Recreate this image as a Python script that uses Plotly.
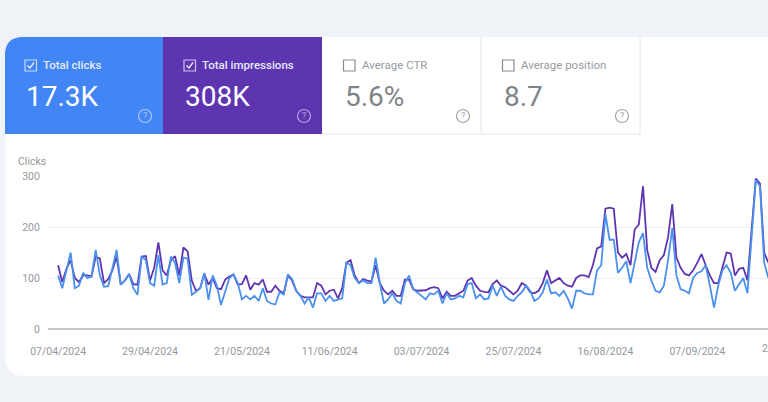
import pandas as pd
import plotly.graph_objects as go

# daily values, 07/04/2024 onwards
clicks = [105, 80, 115, 150, 80, 85, 110, 100, 103, 155,
          105, 83, 84, 120, 155, 87, 95, 108, 80, 67,
          142, 135, 90, 85, 145, 87, 90, 142, 130, 90,
          140, 138, 67, 73, 80, 110, 57, 105, 85, 47,
          75, 100, 107, 90, 58, 65, 58, 65, 55, 80,
          55, 50, 48, 72, 68, 107, 98, 75, 65, 50,
          62, 42, 70, 70, 55, 65, 55, 57, 60, 130,
          125, 100, 90, 95, 90, 90, 140, 90, 50, 58,
          70, 55, 50, 90, 105, 78, 72, 65, 58, 70,
          68, 75, 50, 70, 58, 60, 65, 62, 88, 90,
          60, 68, 58, 60, 85, 65, 83, 65, 58, 55,
          65, 72, 85, 75, 55, 60, 72, 97, 70, 72,
          65, 75, 60, 40, 75, 75, 70, 68, 68, 115,
          125, 225, 175, 175, 110, 120, 133, 90, 130, 170,
          188, 120, 95, 75, 72, 85, 135, 198, 105, 78,
          75, 70, 100, 110, 113, 125, 85, 42, 85, 115,
          125, 110, 75, 88, 100, 70, 180, 292, 280, 130,
          100]
impressions = [125, 92, 118, 135, 100, 92, 105, 105, 103, 142,
               138, 90, 98, 115, 142, 87, 95, 108, 88, 87,
               142, 143, 95, 120, 170, 115, 105, 135, 143, 105,
               160, 152, 95, 75, 80, 108, 87, 100, 80, 78,
               97, 103, 107, 87, 88, 105, 77, 90, 87, 97,
               73, 73, 85, 75, 70, 105, 95, 75, 65, 62,
               62, 62, 90, 85, 68, 75, 77, 60, 80, 130,
               135, 105, 90, 98, 95, 93, 125, 90, 75, 68,
               75, 65, 65, 97, 97, 78, 75, 75, 76, 80,
               82, 80, 60, 73, 65, 65, 70, 75, 95, 100,
               85, 75, 73, 72, 88, 95, 85, 82, 75, 68,
               75, 90, 85, 72, 70, 75, 90, 115, 90, 95,
               100, 90, 85, 83, 100, 105, 105, 102, 125, 158,
               162, 236, 238, 236, 150, 140, 147, 125, 195, 205,
               280, 155, 120, 112, 135, 145, 180, 245, 140, 120,
               108, 105, 115, 130, 147, 125, 105, 90, 90, 120,
               150, 148, 105, 118, 120, 95, 190, 295, 285, 150,
               130]
tick_dates = ["2024-04-07", "2024-04-29", "2024-05-21", "2024-06-11",
              "2024-07-03", "2024-07-25", "2024-08-16", "2024-09-07"]
tick_labels = ["07/04/2024", "29/04/2024", "21/05/2024", "11/06/2024",
               "03/07/2024", "25/07/2024", "16/08/2024", "07/09/2024"]
y_ticks = [0, 100, 200, 300]
tile_labels = ["Total clicks", "Total impressions", "Average CTR", "Average position"]
tile_values = ["17.3K", "308K", "5.6%", "8.7"]

dates = pd.date_range("2024-04-07", periods=len(clicks), freq="D")

BLUE = "#4285f4"
PURPLE = "#5e35b1"
GREY = "#94989b"
PLOT_L, PLOT_R, PLOT_T, PLOT_B = 48, 768, 176, 329


# pixel position -> paper position
def xp(px):
    return (px - PLOT_L) / (PLOT_R - PLOT_L)


def yp(py):
    return (PLOT_B - py) / (PLOT_B - PLOT_T)


def path(points):
    return "M " + " L ".join(f"{xp(a)} {yp(b)}" for a, b in points)


shapes = []
annotations = []


def add_rect(x0, y0, x1, y1, fill, line="rgba(0,0,0,0)", width=0):
    shapes.append(dict(type="rect", xref="paper", yref="paper", layer="below",
                       x0=xp(x0), x1=xp(x1), y0=yp(y1), y1=yp(y0),
                       fillcolor=fill, line=dict(color=line, width=width)))


def add_text(x, y, text, size, color, anchor="left", weight=400):
    annotations.append(dict(xref="paper", yref="paper", x=xp(x), y=yp(y), text=text,
                            xanchor=anchor, yanchor="middle", showarrow=False,
                            borderpad=0, borderwidth=0,
                            font=dict(family="Roboto", size=size, color=color, weight=weight)))


# white card with rounded left corners
shapes.append(dict(type="path", xref="paper", yref="paper", layer="below",
                   path=(f"M {xp(5)} {yp(57)} Q {xp(5)} {yp(37)} {xp(25)} {yp(37)} "
                         f"L {xp(768)} {yp(37)} L {xp(768)} {yp(376)} L {xp(25)} {yp(376)} "
                         f"Q {xp(5)} {yp(376)} {xp(5)} {yp(356)} Z"),
                   fillcolor="white", line=dict(width=0)))
# selected tiles
shapes.append(dict(type="path", xref="paper", yref="paper", layer="below",
                   path=(f"M {xp(5)} {yp(134)} L {xp(5)} {yp(55)} Q {xp(5)} {yp(37)} {xp(23)} {yp(37)} "
                         f"L {xp(163)} {yp(37)} L {xp(163)} {yp(134)} Z"),
                   fillcolor=BLUE, line=dict(width=0)))
add_rect(163, 37, 322, 134, PURPLE)
# borders of the two empty tiles
for seg in ([(322, 134), (640, 134)], [(481, 37), (481, 134)], [(640, 37), (640, 134)]):
    shapes.append(dict(type="path", xref="paper", yref="paper", layer="below",
                       path=path(seg), line=dict(color="#e6e6e6", width=1)))

tile_x = [25, 184, 343.5, 502.5]
for i in range(4):
    selected = i < 2
    x = tile_x[i]
    edge = "rgba(255,255,255,0.7)" if selected else "#8a8a8a"
    add_rect(x, 60, x + 11.5, 71, "rgba(0,0,0,0)", edge, 1.2)
    if selected:
        shapes.append(dict(type="path", xref="paper", yref="paper",
                           path=path([(x + 2.5, 65.5), (x + 5, 68), (x + 9, 62.5)]),
                           line=dict(color="rgba(255,255,255,0.9)", width=1.3)))
    add_text(x + 18, 65, tile_labels[i], 11.5, "#e4ebfb" if selected else "#999c9f", weight=500 if selected else 400)
    add_text(x + 1, 96, tile_values[i], 28, "white" if selected else "#808488")
    # help icon
    cx = [145, 304, 463, 622][i]
    icon = "rgba(255,255,255,0.55)" if selected else "#a5a5a5"
    shapes.append(dict(type="circle", xref="paper", yref="paper",
                       x0=xp(cx - 6.5), x1=xp(cx + 6.5), y0=yp(122.5), y1=yp(109.5),
                       line=dict(color=icon, width=1.2)))
    add_text(cx, 116, "?", 9, icon, anchor="center")

add_text(18, 161, "Clicks", 10.5, GREY)
add_text(762, 348, "2", 10.5, GREY)

fig = go.Figure()
fig.add_trace(go.Scatter(x=dates, y=impressions, mode="lines", name="Impressions",
                         line=dict(color=PURPLE, width=1.8)))
fig.add_trace(go.Scatter(x=dates, y=clicks, mode="lines", name="Clicks",
                         line=dict(color="#4a90ee", width=1.8)))

fig.update_layout(
    width=768, height=402,
    margin=dict(l=PLOT_L, r=768 - PLOT_R, t=PLOT_T, b=402 - PLOT_B, pad=0),
    paper_bgcolor="#f0f4f9",
    plot_bgcolor="rgba(0,0,0,0)",
    showlegend=False,
    shapes=shapes,
    annotations=annotations,
    font=dict(family="Roboto", size=10.5, color=GREY),
)
fig.update_xaxes(
    type="date",
    range=["2024-04-04 14:00", "2024-09-23 22:00"],
    tickmode="array", tickvals=tick_dates, ticktext=tick_labels,
    showgrid=False, zeroline=False, showline=False,
    ticks="outside", ticklen=12, tickcolor="rgba(0,0,0,0)",
)
fig.update_yaxes(
    range=[0, 300],
    tickmode="array", tickvals=y_ticks,
    gridcolor="#f1f1f1", gridwidth=1,
    zeroline=True, zerolinecolor="#c9c9c9", zerolinewidth=2,
    showline=False,
    ticks="outside", ticklen=5, tickcolor="rgba(0,0,0,0)",
)

fig.write_html("out.html", config=dict(displayModeBar=False),
               post_script="document.body.style.margin='0';document.body.style.overflow='hidden';")
